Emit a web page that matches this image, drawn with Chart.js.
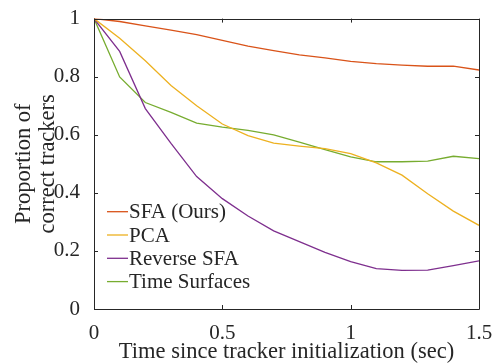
<!DOCTYPE html>
<html>
<head>
<meta charset="utf-8">
<script src="https://cdn.jsdelivr.net/npm/chart.js@4/dist/chart.umd.min.js"></script>
<style>
  html, body { margin: 0; padding: 0; background: #fff; }
  canvas { display: block; }
</style>
</head>
<body>
<canvas id="chart" width="499" height="364"></canvas>
<script>
// Tracker survival vs time since initialization
const times = [0, 0.1, 0.2, 0.3, 0.4, 0.5, 0.6, 0.7, 0.8, 0.9, 1.0, 1.1, 1.2, 1.3, 1.4, 1.5];

const sfa = [1.0, 0.99, 0.975, 0.96, 0.945, 0.925, 0.905, 0.89, 0.875, 0.865, 0.853, 0.845, 0.84, 0.836, 0.836, 0.823];
const pca = [1.0, 0.932, 0.855, 0.77, 0.70, 0.637, 0.597, 0.571, 0.561, 0.552, 0.535, 0.503, 0.461, 0.397, 0.337, 0.288];
const reverseSfa = [1.0, 0.887, 0.69, 0.57, 0.456, 0.38, 0.32, 0.269, 0.232, 0.195, 0.163, 0.139, 0.133, 0.134, 0.149, 0.166];
const timeSurfaces = [1.0, 0.799, 0.711, 0.677, 0.640, 0.626, 0.615, 0.600, 0.575, 0.549, 0.524, 0.507, 0.507, 0.509, 0.526, 0.518];

const seriesNames = ['SFA (Ours)', 'PCA', 'Reverse SFA', 'Time Surfaces'];
const seriesColors = ['#D95319', '#EDB120', '#7E2F8E', '#77AC30'];
const seriesValues = [sfa, pca, reverseSfa, timeSurfaces];

const xTicks = [0, 0.5, 1, 1.5];
const yTicks = [0, 0.2, 0.4, 0.6, 0.8, 1];

const axisColor = '#262626';
const serif = '"Liberation Serif", "Times New Roman", serif';

// Box around the plot with inward ticks on all four sides, plus the legend
const frameAndLegend = {
    id: 'frameAndLegend',
    afterDatasetsDraw(chart) {
        const ctx = chart.ctx;
        const area = chart.chartArea;
        const xs = chart.scales.x;
        const ys = chart.scales.y;
        const tick = 4;

        ctx.save();
        ctx.strokeStyle = axisColor;
        ctx.lineWidth = 1;
        ctx.beginPath();
        ctx.rect(Math.round(area.left) + 0.5, Math.round(area.top) + 0.5,
            Math.round(area.right - area.left), Math.round(area.bottom - area.top));
        ctx.stroke();

        ctx.beginPath();
        xTicks.forEach(v => {
            const px = Math.round(xs.getPixelForValue(v)) + 0.5;
            ctx.moveTo(px, area.bottom);
            ctx.lineTo(px, area.bottom - tick);
            ctx.moveTo(px, area.top);
            ctx.lineTo(px, area.top + tick);
        });
        yTicks.forEach(v => {
            const py = Math.round(ys.getPixelForValue(v)) + 0.5;
            ctx.moveTo(area.left, py);
            ctx.lineTo(area.left + tick, py);
            ctx.moveTo(area.right, py);
            ctx.lineTo(area.right - tick, py);
        });
        ctx.stroke();

        // legend
        const lx = 107, lineLen = 21, rowY = 211.7, rowStep = 23.3;
        ctx.font = '21px ' + serif;
        ctx.textBaseline = 'middle';
        ctx.textAlign = 'left';
        chart.data.datasets.forEach((ds, i) => {
            const y = rowY + i * rowStep;
            ctx.strokeStyle = ds.borderColor;
            ctx.lineWidth = 1.3;
            ctx.beginPath();
            ctx.moveTo(lx, y);
            ctx.lineTo(lx + lineLen, y);
            ctx.stroke();
            ctx.fillStyle = axisColor;
            ctx.fillText(ds.label, lx + lineLen + 1, y + 1);
        });
        ctx.restore();
    }
};

const fmt = v => String(+Number(v).toFixed(2));

new Chart(document.getElementById('chart'), {
    type: 'line',
    data: {
        datasets: seriesNames.map((name, i) => ({
            label: name,
            data: times.map((t, j) => ({ x: t, y: seriesValues[i][j] })),
            borderColor: seriesColors[i],
            backgroundColor: seriesColors[i],
            borderWidth: 1.3,
            pointRadius: 0,
            tension: 0,
            fill: false
        }))
    },
    options: {
        responsive: false,
        animation: false,
        devicePixelRatio: 1,
        layout: { padding: { top: 15, right: 20, left: 0, bottom: 0 } },
        plugins: {
            legend: { display: false },
            tooltip: { enabled: false }
        },
        scales: {
            x: {
                type: 'linear',
                min: 0,
                max: 1.5,
                afterBuildTicks: s => { s.ticks = xTicks.map(v => ({ value: v })); },
                afterFit: s => { s.height = 55; },
                grid: { display: false },
                border: { display: false },
                ticks: {
                    color: axisColor,
                    padding: 4,
                    maxRotation: 0,
                    font: { family: serif, size: 21 },
                    callback: fmt
                },
                title: {
                    display: true,
                    text: 'Time since tracker initialization (sec)',
                    color: axisColor,
                    font: { family: serif, size: 22.5, lineHeight: 1.05 },
                    padding: { top: 0, bottom: 0 }
                }
            },
            y: {
                type: 'linear',
                min: 0,
                max: 1,
                afterBuildTicks: s => { s.ticks = yTicks.map(v => ({ value: v })); },
                afterFit: s => { s.width = 94; },
                grid: { display: false },
                border: { display: false },
                ticks: {
                    color: axisColor,
                    padding: 6,
                    font: { family: serif, size: 21 },
                    callback: fmt
                },
                title: {
                    display: true,
                    text: ['Proportion of', 'correct trackers'],
                    color: axisColor,
                    font: { family: serif, size: 22.5, lineHeight: 1.07 },
                    padding: { top: 12, bottom: 0 }
                }
            }
        }
    },
    plugins: [frameAndLegend]
});
</script>
</body>
</html>
